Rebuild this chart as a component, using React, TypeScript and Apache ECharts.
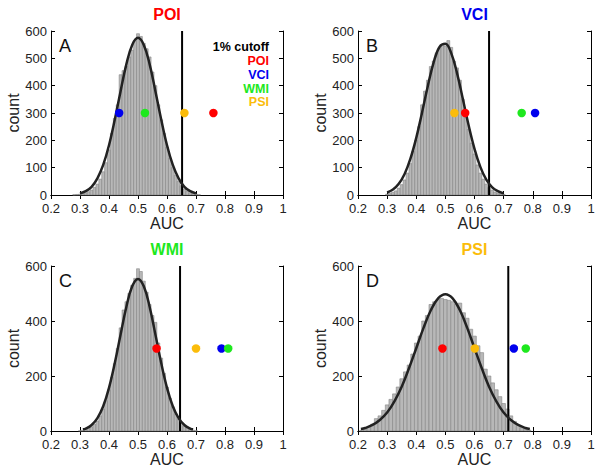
import React, { useEffect, useRef } from "react";
import * as echarts from "echarts";

// ---- data ----
const panelTitles = ["POI", "VCI", "WMI", "PSI"];
const panelLetters = ["A", "B", "C", "D"];
const groupNames = ["POI", "VCI", "WMI", "PSI"];
const groupColors = ["#ff0000", "#0000ee", "#1ee81e", "#fbbc0a"];

// histogram bins (start center + width) and counts
const binStartA = 0.28, binWidthA = 0.01;
const histA = [1, 2, 3, 5, 8, 12, 18, 28, 40, 58, 85, 118, 165, 225, 280, 330, 440, 455, 470, 505, 530, 565, 590, 580, 555, 535, 505, 450, 400, 330, 275, 225, 175, 135, 100, 72, 50, 34, 22, 14, 8, 5, 3, 1];
const binStartB = 0.30, binWidthB = 0.01;
const histB = [3, 6, 10, 15, 25, 38, 55, 80, 115, 160, 200, 250, 330, 380, 420, 470, 490, 520, 540, 550, 545, 565, 540, 490, 465, 420, 350, 300, 240, 190, 150, 110, 80, 58, 40, 27, 18, 11, 7, 4, 2];
const binStartC = 0.30, binWidthC = 0.01;
const histC = [1, 3, 5, 9, 15, 24, 36, 55, 80, 110, 150, 195, 245, 300, 375, 440, 470, 500, 530, 555, 590, 580, 545, 505, 460, 420, 395, 320, 265, 210, 160, 120, 88, 62, 42, 28, 18, 11, 6, 3, 1];
const binStartD = 0.2125, binWidthD = 0.0125;
const histD = [3, 8, 15, 25, 45, 55, 75, 95, 115, 135, 160, 190, 215, 240, 280, 320, 345, 400, 420, 460, 470, 478, 482, 478, 475, 470, 460, 465, 430, 410, 370, 345, 310, 285, 225, 200, 175, 150, 125, 100, 80, 55, 35, 20, 12, 6, 3];

// fitted curves
const curveXA = [0.30, 0.32, 0.34, 0.36, 0.38, 0.40, 0.42, 0.44, 0.46, 0.48, 0.50, 0.52, 0.54, 0.56, 0.58, 0.60, 0.62, 0.64, 0.66, 0.68, 0.70];
const curveYA = [6, 14, 30, 61, 110, 182, 276, 380, 479, 549, 575, 549, 479, 380, 276, 182, 110, 61, 30, 14, 6];
const curveXB = [0.30, 0.32, 0.34, 0.36, 0.38, 0.40, 0.42, 0.44, 0.46, 0.48, 0.50, 0.52, 0.54, 0.56, 0.58, 0.60, 0.62, 0.64, 0.66, 0.68, 0.70];
const curveYB = [9, 20, 41, 77, 133, 209, 302, 400, 486, 542, 553, 519, 446, 351, 254, 169, 103, 57, 29, 14, 6];
const curveXC = [0.31, 0.32, 0.34, 0.36, 0.38, 0.40, 0.42, 0.44, 0.46, 0.48, 0.50, 0.52, 0.54, 0.56, 0.58, 0.60, 0.62, 0.64, 0.66, 0.68, 0.69];
const curveYC = [6, 9, 22, 47, 90, 157, 247, 351, 452, 526, 553, 526, 452, 351, 247, 157, 90, 47, 22, 9, 6];
const curveXD = [0.21, 0.225, 0.25, 0.275, 0.30, 0.325, 0.35, 0.375, 0.40, 0.425, 0.45, 0.475, 0.50, 0.525, 0.55, 0.575, 0.60, 0.625, 0.65, 0.675, 0.70, 0.725, 0.75, 0.775, 0.79];
const curveYD = [7, 11, 22, 40, 67, 108, 161, 228, 301, 375, 439, 482, 497, 482, 439, 375, 301, 228, 161, 108, 67, 40, 22, 11, 7];

// 1% cutoff per panel
const cutoffs = [0.652, 0.65, 0.645, 0.716];
// observed AUC per group (POI, VCI, WMI, PSI) per panel
const dotsA = [0.76, 0.435, 0.524, 0.66];
const dotsB = [0.568, 0.808, 0.762, 0.531];
const dotsC = [0.564, 0.788, 0.811, 0.70];
const dotsD = [0.49, 0.735, 0.776, 0.601];
const dotY = 300;

const xTicks = { min: 0.2, max: 1, interval: 0.1 };
const yMax = 600;
const yIntervals = [100, 100, 200, 200];

const FONT = "'Liberation Sans', Arial, Helvetica, sans-serif";

export default function App() {
  const ref = useRef<HTMLDivElement>(null);
  useEffect(() => {
    if (!ref.current) return;
    const chart = echarts.init(ref.current, null, { renderer: "svg" });

    const grids = [
      { left: 51, top: 31, width: 232, height: 164 },
      { left: 358, top: 31, width: 233, height: 164 },
      { left: 51, top: 266, width: 232, height: 165 },
      { left: 358, top: 266, width: 233, height: 165 },
    ];
    const hists = [
      { start: binStartA, w: binWidthA, v: histA },
      { start: binStartB, w: binWidthB, v: histB },
      { start: binStartC, w: binWidthC, v: histC },
      { start: binStartD, w: binWidthD, v: histD },
    ];
    const curves = [
      [curveXA, curveYA],
      [curveXB, curveYB],
      [curveXC, curveYC],
      [curveXD, curveYD],
    ];
    const dots = [dotsA, dotsB, dotsC, dotsD];

    const xAxes: any[] = [];
    const yAxes: any[] = [];
    const series: any[] = [];
    const graphics: any[] = [];

    grids.forEach((g, i) => {
      const axisLine = { show: true, lineStyle: { color: "#000", width: 1 } };
      const axisTick = { show: true, inside: true, length: 4, lineStyle: { color: "#000" } };
      xAxes.push({
        type: "value", gridIndex: i, position: "bottom", ...xTicks,
        axisLine, axisTick, splitLine: { show: false },
        axisLabel: {
          fontSize: 13, lineHeight: 12, color: "#222", fontFamily: FONT, margin: 7,
          formatter: (v: number) => (Math.abs(v - 1) < 1e-9 ? "1" : v.toFixed(1)),
        },
        name: "AUC", nameLocation: "middle", nameGap: 18,
        nameTextStyle: { fontSize: 16, color: "#222", fontFamily: FONT },
      });
      xAxes.push({
        type: "value", gridIndex: i, position: "top", ...xTicks,
        axisLine, axisTick, splitLine: { show: false }, axisLabel: { show: false },
      });
      yAxes.push({
        type: "value", gridIndex: i, position: "left", min: 0, max: yMax, interval: yIntervals[i],
        axisLine, axisTick, splitLine: { show: false },
        axisLabel: { fontSize: 13, lineHeight: 12, color: "#222", fontFamily: FONT, margin: 4 },
        name: "count", nameLocation: "middle", nameGap: 30, nameRotate: 90,
        nameTextStyle: { fontSize: 16, color: "#222", fontFamily: FONT },
      });
      yAxes.push({
        type: "value", gridIndex: i, position: "right", min: 0, max: yMax, interval: yIntervals[i],
        axisLine, axisTick, splitLine: { show: false }, axisLabel: { show: false },
      });

      const h = hists[i];
      const w = h.w;
      series.push({
        type: "custom",
        xAxisIndex: 2 * i, yAxisIndex: 2 * i,
        encode: { x: 0, y: 1 },
        data: h.v.map((c, k) => [h.start + k * w, c]),
        renderItem: (params: any, api: any) => {
          const x = api.value(0);
          const y = api.value(1);
          const p0 = api.coord([x - w / 2, y]);
          const p1 = api.coord([x + w / 2, 0]);
          return {
            type: "rect",
            shape: { x: p0[0], y: p0[1], width: p1[0] - p0[0], height: p1[1] - p0[1] },
            style: { fill: "#b8b8b8", stroke: "#858585", lineWidth: 0.6 },
          };
        },
        z: 1,
      });

      series.push({
        type: "line",
        xAxisIndex: 2 * i, yAxisIndex: 2 * i,
        data: [[cutoffs[i], 0], [cutoffs[i], yMax]],
        showSymbol: false, symbol: "none",
        lineStyle: { color: "#000", width: 2 },
        z: 3,
      });

      const [cx, cy] = curves[i];
      series.push({
        type: "line",
        xAxisIndex: 2 * i, yAxisIndex: 2 * i,
        data: cx.map((x, k) => [x, cy[k]]),
        smooth: 0.4, showSymbol: false, symbol: "none",
        lineStyle: { color: "#222", width: 2.5 },
        z: 4,
      });

      groupNames.forEach((name, gi) => {
        series.push({
          type: "scatter",
          name,
          xAxisIndex: 2 * i, yAxisIndex: 2 * i,
          data: [[dots[i][gi], dotY]],
          symbolSize: 8.5,
          itemStyle: { color: groupColors[gi], opacity: 1 },
          z: 5,
        });
      });

      graphics.push({
        type: "text",
        x: g.left + g.width / 2, y: g.top - 17,
        style: {
          text: panelTitles[i], fill: groupColors[i], font: `bold 16px ${FONT}`,
          textAlign: "center", textVerticalAlign: "middle",
        },
      });
      graphics.push({
        type: "text",
        x: g.left + 8, y: g.top + 15,
        style: {
          text: panelLetters[i], fill: "#111", font: `18px ${FONT}`,
          textAlign: "left", textVerticalAlign: "middle",
        },
      });
    });

    const legendItems = [
      { text: "1% cutoff", color: "#000" },
      ...groupNames.map((n, gi) => ({ text: n, color: groupColors[gi] })),
    ];
    const legendYs = [46.5, 61, 75, 89, 102];
    legendItems.forEach((it, k) => {
      graphics.push({
        type: "text",
        x: 269, y: legendYs[k],
        style: {
          text: it.text, fill: it.color, font: `bold 12.5px ${FONT}`, lineHeight: 12,
          textAlign: "right", textVerticalAlign: "middle",
        },
        z: 10,
      });
    });

    chart.setOption({
      animation: false,
      backgroundColor: "#fff",
      textStyle: { fontFamily: FONT },
      grid: grids,
      xAxis: xAxes,
      yAxis: yAxes,
      series,
      graphic: graphics,
    });
    return () => chart.dispose();
  }, []);

  return (
    <div
      ref={ref}
      style={{ position: "absolute", left: 0, top: 0, width: 600, height: 471, background: "#fff" }}
    />
  );
}
